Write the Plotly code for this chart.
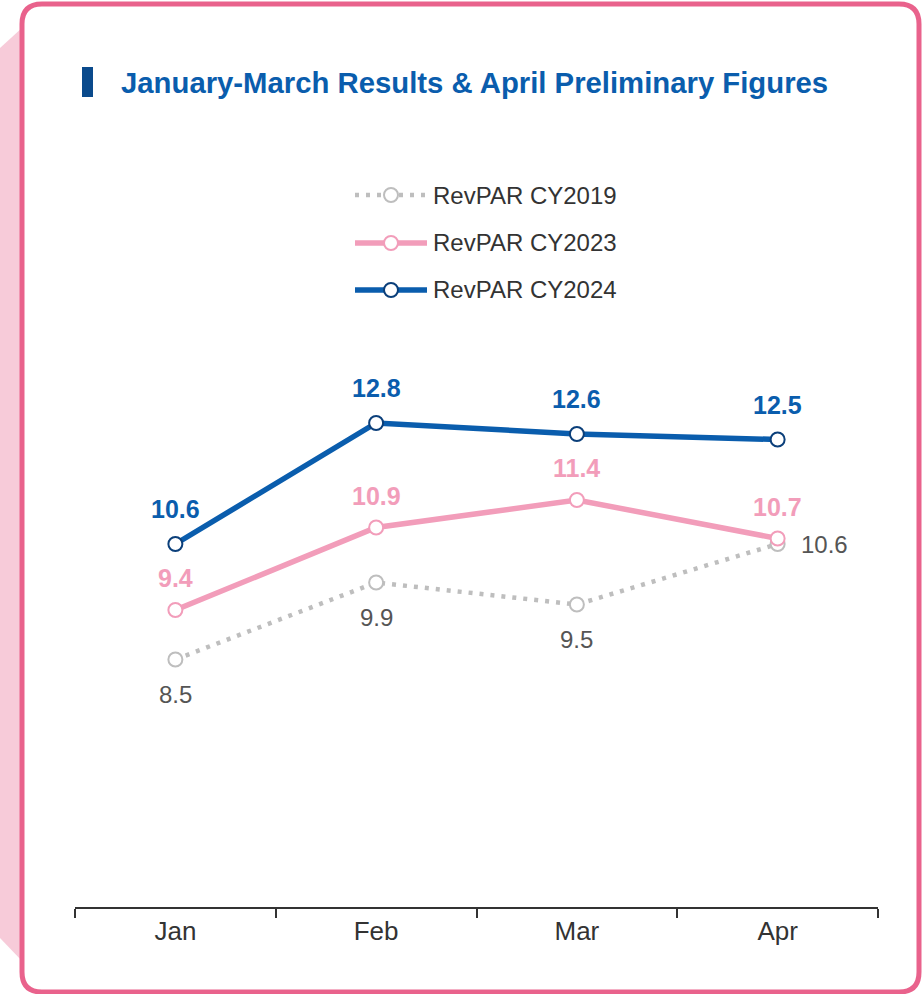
import plotly.graph_objects as go

months = ["Jan", "Feb", "Mar", "Apr"]
revpar_2019 = [8.5, 9.9, 9.5, 10.6]
revpar_2023 = [9.4, 10.9, 11.4, 10.7]
revpar_2024 = [10.6, 12.8, 12.6, 12.5]
series_names = ["RevPAR CY2019", "RevPAR CY2023", "RevPAR CY2024"]
title_text = "January-March Results & April Preliminary Figures"

W, H = 922, 994
L, R, T, B = 75, 878, 330, 907
Y_MIN = 4.0
Y_MAX = Y_MIN + (B - T) / 55.0

BLUE = "#0A5DAD"
PINK = "#F29DBA"
GRAY = "#BEBEBE"
FONT = "Liberation Sans, Arial, sans-serif"


def px(x):
    return (x - L) / (R - L)


def py(y):
    return (B - y) / (B - T)


fig = go.Figure()

fig.add_trace(go.Scatter(
    x=months, y=revpar_2019, mode="lines+markers", name=series_names[0],
    line=dict(color=GRAY, width=4.5, dash="4px,7px"),
    marker=dict(symbol="circle", size=14, color="white", line=dict(color=GRAY, width=2)),
    showlegend=False, cliponaxis=False))
fig.add_trace(go.Scatter(
    x=months, y=revpar_2023, mode="lines+markers", name=series_names[1],
    line=dict(color=PINK, width=5.5),
    marker=dict(symbol="circle", size=14, color="white", line=dict(color=PINK, width=2)),
    showlegend=False, cliponaxis=False))
fig.add_trace(go.Scatter(
    x=months, y=revpar_2024, mode="lines+markers", name=series_names[2],
    line=dict(color=BLUE, width=5.5),
    marker=dict(symbol="circle", size=14, color="white", line=dict(color="#0B3F7A", width=2)),
    showlegend=False, cliponaxis=False))

annotations = []
for m, v in zip(months, revpar_2024):
    annotations.append(dict(x=m, y=v, xref="x", yref="y", text=f"<b>{v:.1f}</b>", showarrow=False,
                            yshift=35, font=dict(family=FONT, size=25, color=BLUE)))
for m, v in zip(months, revpar_2023):
    annotations.append(dict(x=m, y=v, xref="x", yref="y", text=f"<b>{v:.1f}</b>", showarrow=False,
                            yshift=32, font=dict(family=FONT, size=25, color=PINK)))
for i, (m, v) in enumerate(zip(months, revpar_2019)):
    if i == len(months) - 1:
        annotations.append(dict(x=m, y=v, xref="x", yref="y", text=f"{v:.1f}", showarrow=False,
                                xshift=47, yshift=0, font=dict(family=FONT, size=24, color="#555555")))
    else:
        annotations.append(dict(x=m, y=v, xref="x", yref="y", text=f"{v:.1f}", showarrow=False,
                                yshift=-35, font=dict(family=FONT, size=24, color="#555555")))

# Title
annotations.append(dict(x=px(119), y=py(82), xref="paper", yref="paper", text=f"<b>{title_text}</b>",
                        showarrow=False, xanchor="left", yanchor="middle",
                        font=dict(family=FONT, size=29.3, color=BLUE)))

# Legend texts
leg_y = [195, 243, 290]
for name, ly in zip(series_names, leg_y):
    annotations.append(dict(x=px(431), y=py(ly), xref="paper", yref="paper", text=name,
                            showarrow=False, xanchor="left", yanchor="middle",
                            font=dict(family=FONT, size=24, color="#333333")))

shapes = []
# pink side shadow
shapes.append(dict(type="path", xref="paper", yref="paper", layer="below",
                   path=f"M{px(0)},{py(48)} L{px(23)},{py(27)} L{px(23)},{py(962)} L{px(0)},{py(938)} Z",
                   fillcolor="#F7CBD9", line=dict(width=0)))
# rounded border
x0, x1, y0, y1, r = 22, 919, 4, 992, 20
path = (f"M{px(x0 + r)},{py(y0)} L{px(x1 - r)},{py(y0)} Q{px(x1)},{py(y0)} {px(x1)},{py(y0 + r)} "
        f"L{px(x1)},{py(y1 - r)} Q{px(x1)},{py(y1)} {px(x1 - r)},{py(y1)} "
        f"L{px(x0 + r)},{py(y1)} Q{px(x0)},{py(y1)} {px(x0)},{py(y1 - r)} "
        f"L{px(x0)},{py(y0 + r)} Q{px(x0)},{py(y0)} {px(x0 + r)},{py(y0)} Z")
shapes.append(dict(type="path", xref="paper", yref="paper", layer="below", path=path,
                   fillcolor="white", line=dict(color="#E9628C", width=5)))
# title marker bar
shapes.append(dict(type="rect", xref="paper", yref="paper", x0=px(82), x1=px(93), y0=py(67), y1=py(97),
                   fillcolor="#0A4A8C", line=dict(width=0)))
# legend samples
legend_styles = [(GRAY, 4.5, "4px,7px", GRAY), (PINK, 5.5, "solid", PINK), (BLUE, 5.5, "solid", "#0B3F7A")]
for (col, w, dash, mcol), ly in zip(legend_styles, leg_y):
    shapes.append(dict(type="line", xref="paper", yref="paper", x0=px(355), x1=px(427), y0=py(ly), y1=py(ly),
                       line=dict(color=col, width=w, dash=dash)))
    rr = 7
    shapes.append(dict(type="circle", xref="paper", yref="paper", x0=px(391 - rr), x1=px(391 + rr),
                       y0=py(ly + rr), y1=py(ly - rr), fillcolor="white", line=dict(color=mcol, width=2)))

fig.update_layout(
    width=W, height=H,
    margin=dict(l=L, r=W - R, t=T, b=H - B, pad=0),
    paper_bgcolor="white", plot_bgcolor="white",
    showlegend=False,
    annotations=annotations, shapes=shapes,
    font=dict(family=FONT, color="#333333"),
    xaxis=dict(type="category", categoryorder="array", categoryarray=months, range=[-0.5, 3.5],
               showgrid=False, zeroline=False, showline=True, linecolor="#333333", linewidth=2,
               ticks="outside", tickson="boundaries", ticklen=9, tickwidth=2, tickcolor="#333333",
               tickfont=dict(family=FONT, size=26, color="#333333"), fixedrange=True),
    yaxis=dict(range=[Y_MIN, Y_MAX], visible=False, showgrid=False, zeroline=False, fixedrange=True),
)

fig.write_html("out.html", config=dict(displayModeBar=False),
               post_script="document.body.style.margin='0';document.body.style.overflow='hidden';")
